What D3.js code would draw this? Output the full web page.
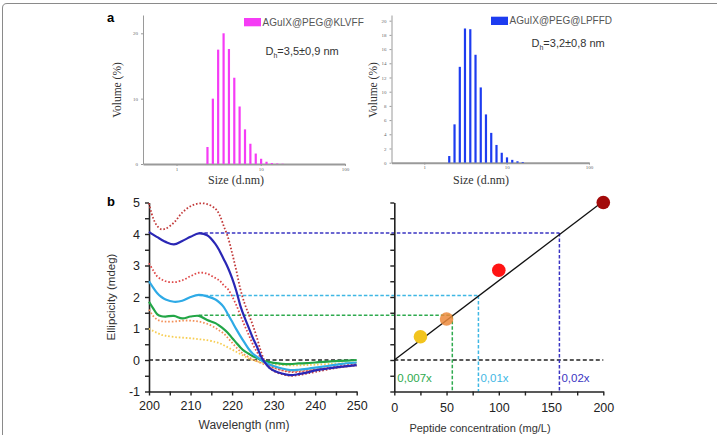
<!DOCTYPE html>
<html>
<head>
<meta charset="utf-8">
<script src="https://cdn.jsdelivr.net/npm/d3@7"></script>
<style>
  body { margin: 0; background: #fff; }
  svg { display: block; font-family: "Liberation Sans", Arial, sans-serif; }
</style>
</head>
<body>
<svg id="fig" width="720" height="435"></svg>
<script>
// ---- panel a : DLS size distributions (Zetasizer bins) ----
var sizesKLVFF = [2.33, 2.7, 3.12, 3.62, 4.19, 4.85, 5.61, 6.5, 7.53, 8.72, 10.1, 11.7, 13.54, 15.69, 18.17];
var volKLVFF   = [2.6, 10, 17.5, 20, 17.6, 13.2, 8.8, 5.3, 3.1, 1.6, 0.8, 0.35, 0.15, 0.08, 0.04];
var sizesLPFFD = [2.01, 2.33, 2.7, 3.12, 3.62, 4.19, 4.85, 5.61, 6.5, 7.53, 8.72, 10.1, 11.7, 13.54, 15.69];
var volLPFFD   = [0.94, 5.4, 13.5, 18.9, 18.8, 15.2, 10.6, 6.8, 4.2, 2.5, 1.4, 0.75, 0.4, 0.2, 0.1];

// ---- panel b : CD spectra ----
var wl = [200,201,202,203,204,206,208,210,212,214,216,217,218,219,220,221,222,223,224,225,226,227,228,229,230,232,234,236,238,240,243,246,250];
var cd200 = [4.97,4.5,4.25,4.15,4.17,4.36,4.68,4.88,4.97,4.95,4.8,4.6,4.25,3.9,3.4,2.85,2.25,1.8,1.45,1.1,0.7,0.25,-0.08,-0.25,-0.35,-0.45,-0.5,-0.48,-0.43,-0.38,-0.3,-0.23,-0.16];
var cd100 = [3.07,2.85,2.65,2.56,2.5,2.47,2.53,2.66,2.77,2.74,2.6,2.52,2.37,2.25,2.02,1.75,1.42,1.1,0.8,0.5,0.25,0.05,-0.1,-0.18,-0.24,-0.33,-0.38,-0.38,-0.35,-0.31,-0.25,-0.19,-0.12];
var cd50  = [1.6,1.4,1.28,1.23,1.22,1.22,1.25,1.25,1.22,1.15,1.02,0.93,0.84,0.7,0.55,0.4,0.27,0.17,0.09,0.02,-0.04,-0.1,-0.15,-0.2,-0.25,-0.32,-0.36,-0.35,-0.33,-0.3,-0.26,-0.23,-0.18];
var cd25  = [1.0,0.92,0.86,0.8,0.77,0.73,0.71,0.69,0.66,0.63,0.57,0.53,0.47,0.4,0.33,0.26,0.19,0.12,0.05,0.0,-0.04,-0.07,-0.1,-0.12,-0.14,-0.16,-0.17,-0.17,-0.16,-0.15,-0.13,-0.11,-0.08];
var cdBlue  = [4.07,3.98,3.9,3.82,3.75,3.67,3.78,3.91,4.02,3.96,3.68,3.46,3.2,2.93,2.6,2.2,1.72,1.35,1.03,0.7,0.42,0.1,-0.1,-0.25,-0.33,-0.43,-0.48,-0.45,-0.4,-0.33,-0.27,-0.22,-0.16];
var cdCyan  = [2.5,2.3,2.12,2.0,1.92,1.85,1.88,2.0,2.07,2.02,1.92,1.82,1.68,1.45,1.22,0.98,0.76,0.55,0.35,0.2,0.1,0.0,-0.08,-0.14,-0.19,-0.27,-0.32,-0.31,-0.28,-0.24,-0.19,-0.13,-0.08];
var cdGreen = [1.85,1.64,1.45,1.39,1.38,1.4,1.32,1.38,1.4,1.27,1.17,1.08,0.98,0.86,0.7,0.55,0.4,0.28,0.2,0.12,0.06,0.0,-0.04,-0.07,-0.09,-0.12,-0.13,-0.11,-0.1,-0.08,-0.05,-0.03,0.0];

// ---- panel b : calibration ----
var concentrations = [25, 50, 100, 200];
var ellipAt212     = [0.74, 1.3, 2.85, 5.0];
var pointColors    = ["#f2c41e", "#ec8a3c", "#ff1414", "#a30a0a"];
var fitSlope = 0.0252;
var sampleLevels = [1.42, 2.05, 4.03];        // green, cyan, blue at 212 nm
var sampleConc   = [55.5, 80.5, 158];
var sampleLabels = ["0,007x", "0,01x", "0,02x"];
var sampleColors = ["#2eaa4e", "#3fb7e4", "#3a34c2"];
var dashStartNm = 212;

var svg = d3.select("#fig");

// frame
svg.append("path")
  .attr("d", "M2.5,435 V8 Q2.5,3.5 7,3.5 H717")
  .attr("fill", "none").attr("stroke", "#8a8a8a").attr("stroke-width", 1);

svg.append("text").attr("x", 107).attr("y", 22).attr("font-weight", "bold")
  .attr("font-size", 13).text("a");
svg.append("text").attr("x", 107).attr("y", 206).attr("font-weight", "bold")
  .attr("font-size", 13).text("b");

function dlsChart(o) {
  var x = d3.scaleLog().domain([0.4, 100]).range(o.xr);
  var y = d3.scaleLinear().domain([0, o.ymax]).range([o.y0, 15]);
  var g = svg.append("g");

  var ya = d3.axisLeft(y).tickValues(o.yticks).tickSize(2).tickSizeOuter(0);
  g.append("g").attr("transform", "translate(" + o.xr[0] + ",0)").call(ya)
    .call(function (s) {
      s.select(".domain").attr("stroke", "#9a9a9a");
      s.selectAll(".tick line").attr("stroke", "#9a9a9a");
      s.selectAll(".tick text").attr("font-size", 5).attr("fill", "#666")
        .attr("font-family", "Liberation Serif");
    });

  var xa = d3.axisBottom(x).tickValues([1, 10, 100]).tickFormat(d3.format("d"))
    .tickSize(2).tickSizeOuter(0);
  g.append("g").attr("transform", "translate(0," + o.y0 + ")").call(xa)
    .call(function (s) {
      s.select(".domain").attr("stroke", "#9a9a9a").attr("stroke-width", 2);
      s.selectAll(".tick line").attr("stroke", "#9a9a9a");
      s.selectAll(".tick text").attr("font-size", 5).attr("fill", "#666")
        .attr("font-family", "Liberation Serif").attr("y", 3).attr("dy", "0.7em");
    });

  g.selectAll("rect.bar").data(o.sizes).enter().append("rect")
    .attr("class", "bar")
    .attr("x", function (d) { return x(d) - 1.1; })
    .attr("width", 2.2)
    .attr("y", function (d, i) { return y(o.vol[i]); })
    .attr("height", function (d, i) { return o.y0 - y(o.vol[i]); })
    .attr("fill", o.color);

  g.append("text").attr("transform", "translate(" + o.ylabX + ",90) rotate(-90)")
    .attr("text-anchor", "middle").attr("font-family", "Liberation Serif")
    .attr("font-size", 11.5).attr("fill", "#333").text("Volume (%)");
  g.append("text").attr("x", o.xlabX).attr("y", 184).attr("text-anchor", "middle")
    .attr("font-family", "Liberation Serif").attr("font-size", 12)
    .attr("fill", "#333").text("Size (d.nm)");

  g.append("rect").attr("x", o.leg[0]).attr("y", o.leg[1]).attr("width", 17)
    .attr("height", 8.3).attr("fill", o.color);
  g.append("text").attr("x", o.leg[0] + 18.5).attr("y", o.leg[1] + 7.5)
    .attr("font-size", 10).attr("fill", "#555").text(o.name);
  var t = g.append("text").attr("x", o.dh[0]).attr("y", o.dh[1])
    .attr("font-size", 11).attr("fill", "#333");
  t.append("tspan").text("D");
  t.append("tspan").attr("font-size", 7).attr("dy", 2.5).text("h");
  t.append("tspan").attr("dy", -2.5).text(o.dhText);
}

dlsChart({ xr: [143, 345], y0: 164, ymax: 22.8, yticks: [0, 10, 20],
  sizes: sizesKLVFF, vol: volKLVFF, color: "#f53cf5",
  ylabX: 121, xlabX: 236, leg: [244, 18], name: "AGuIX@PEG@KLVFF",
  dh: [265.5, 55], dhText: "=3,5\u00b10,9 nm" });
dlsChart({ xr: [391.5, 589], y0: 162.7, ymax: 20.8, yticks: d3.range(0, 21, 2),
  sizes: sizesLPFFD, vol: volLPFFD, color: "#1d3cf0",
  ylabX: 377, xlabX: 481, leg: [491, 16.7], name: "AGuIX@PEG@LPFFD",
  dh: [531.5, 47], dhText: "=3,2\u00b10,8 nm" });

// ---- panel b left : CD ----
var xW = d3.scaleLinear().domain([200, 250]).range([149, 356.7]);
var yE = d3.scaleLinear().domain([-1, 5]).range([391.5, 202.5]);
var xC = d3.scaleLinear().domain([0, 200]).range([394.3, 603.3]);

function styleB(s) {
  s.select(".domain").attr("stroke", "#222").attr("stroke-width", 1.6);
  s.selectAll(".tick line").attr("stroke", "#222").attr("stroke-width", 1.4);
  s.selectAll(".tick text").attr("font-size", 12.5).attr("fill", "#222");
}

svg.append("g").attr("transform", "translate(149,0)")
  .call(d3.axisLeft(yE).tickValues(d3.range(-1, 5.01, 0.5)).tickSize(4).tickSizeOuter(0)
    .tickFormat(function (d) { return d % 1 === 0 ? d : ""; }))
  .call(styleB).call(function (s) { s.selectAll(".tick text").attr("x", -9); });
svg.append("g").attr("transform", "translate(0,391.5)")
  .call(d3.axisBottom(xW).tickValues(d3.range(200, 251, 5)).tickSize(4).tickSizeOuter(0)
    .tickFormat(function (d) { return d % 10 === 0 ? d : ""; }))
  .call(styleB).call(function (s) { s.selectAll(".tick text").attr("dy", "0.95em"); });

svg.append("text").attr("transform", "translate(115,297) rotate(-90)")
  .attr("text-anchor", "middle").attr("font-size", 11.5).attr("fill", "#333")
  .text("Ellipcicity (mdeg)");
svg.append("text").attr("x", 244).attr("y", 429).attr("text-anchor", "middle")
  .attr("font-size", 12).attr("fill", "#333").text("Wavelength (nm)");

// zero lines
svg.append("line").attr("x1", xW(200)).attr("x2", xW(250)).attr("y1", yE(0)).attr("y2", yE(0))
  .attr("stroke", "#222").attr("stroke-width", 1.6).attr("stroke-dasharray", "4,2.5");
svg.append("line").attr("x1", xC(0)).attr("x2", xC(200)).attr("y1", yE(0)).attr("y2", yE(0))
  .attr("stroke", "#222").attr("stroke-width", 1.6).attr("stroke-dasharray", "4,2.5");

// reference dashed lines from the CD maximum to the calibration curve
sampleLevels.forEach(function (v, i) {
  svg.append("line").attr("x1", xW(dashStartNm)).attr("x2", xC(sampleConc[i]))
    .attr("y1", yE(v)).attr("y2", yE(v))
    .attr("stroke", sampleColors[i]).attr("stroke-width", 1.5).attr("stroke-dasharray", "3.5,2");
  svg.append("line").attr("x1", xC(sampleConc[i])).attr("x2", xC(sampleConc[i]))
    .attr("y1", yE(v)).attr("y2", yE(-1))
    .attr("stroke", sampleColors[i]).attr("stroke-width", 1.5).attr("stroke-dasharray", "3.5,2");
});

var cdLine = d3.line().curve(d3.curveCatmullRom)
  .x(function (d) { return xW(d[0]); }).y(function (d) { return yE(d[1]); });
var curves = [
  { v: cd25, color: "#f7cd52", dotted: true },
  { v: cd50, color: "#f39058", dotted: true },
  { v: cd100, color: "#df4a4a", dotted: true },
  { v: cd200, color: "#c23a3a", dotted: true },
  { v: cdGreen, color: "#22a646", dotted: false },
  { v: cdCyan, color: "#2eaae6", dotted: false },
  { v: cdBlue, color: "#2a27b5", dotted: false }
];
curves.forEach(function (c) {
  svg.append("path").datum(wl.map(function (w, i) { return [w, c.v[i]]; }))
    .attr("d", cdLine).attr("fill", "none").attr("stroke", c.color)
    .attr("stroke-width", c.dotted ? 1.8 : 2.2)
    .attr("stroke-dasharray", c.dotted ? "1.6,1.9" : null);
});

// ---- panel b right : calibration ----
svg.append("g").attr("transform", "translate(394.3,0)")
  .call(d3.axisLeft(yE).tickValues(d3.range(-1, 5.01, 0.5)).tickSize(4).tickSizeOuter(0)
    .tickFormat(""))
  .call(styleB);
svg.append("g").attr("transform", "translate(0,391.5)")
  .call(d3.axisBottom(xC).tickValues(d3.range(0, 201, 25)).tickSize(4).tickSizeOuter(0)
    .tickFormat(function (d) { return d % 50 === 0 ? d : ""; }))
  .call(styleB).call(function (s) { s.selectAll(".tick text").attr("dy", "1.05em"); });
svg.append("text").attr("x", 480).attr("y", 432).attr("text-anchor", "middle")
  .attr("font-size", 11).attr("fill", "#333").text("Peptide concentration (mg/L)");

svg.append("line").attr("x1", xC(0)).attr("y1", yE(0))
  .attr("x2", xC(200)).attr("y2", yE(200 * fitSlope))
  .attr("stroke", "#111").attr("stroke-width", 1.3);

svg.selectAll("circle.pt").data(concentrations).enter().append("circle")
  .attr("class", "pt")
  .attr("cx", function (d) { return xC(d); })
  .attr("cy", function (d, i) { return yE(ellipAt212[i]); })
  .attr("r", 6.8)
  .attr("fill", function (d, i) { return pointColors[i]; })
  .attr("fill-opacity", function (d, i) { return i === 1 ? 0.85 : 1; });

// dilution labels: the first sits next to the y axis, the others beside their drop line
sampleLabels.forEach(function (s, i) {
  var lx = i === 0 ? xC(0) + 3 : xC(sampleConc[i]) + 2;
  svg.append("text").attr("x", lx).attr("y", 382)
    .attr("font-size", 11.5).attr("fill", sampleColors[i]).text(s);
});
</script>
</body>
</html>
